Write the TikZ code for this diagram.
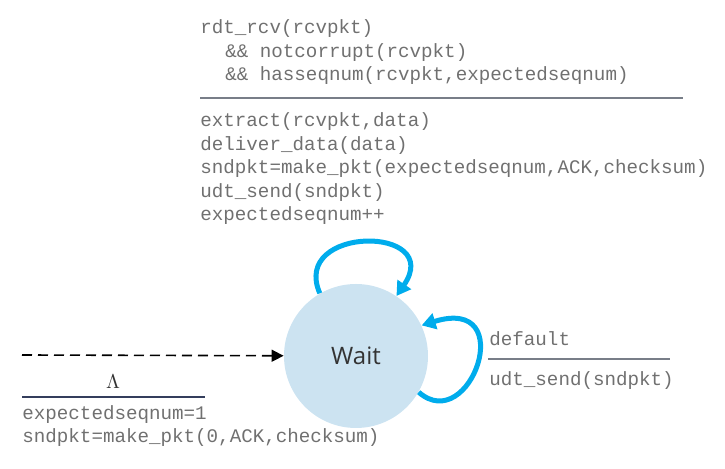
\documentclass[tikz,border=0pt]{standalone}
\usepackage{fontspec}
\newfontfamily\codefont{Liberation Mono}
\newfontfamily\statefont{Open Sans}
\usetikzlibrary{arrows.meta}
\definecolor{loopblue}{RGB}{0,172,236}
\definecolor{statefill}{RGB}{204,227,241}
\definecolor{codegray}{RGB}{112,112,112}
\definecolor{rulegray}{RGB}{120,126,136}
\definecolor{rulenavy}{RGB}{52,62,92}

\begin{document}
\begin{tikzpicture}[x=0.5pt,y=-0.5pt,
	code/.style={font=\codefont\fontsize{9.6}{11.75}\selectfont,text=codegray,align=left,inner sep=0pt,anchor=base west},
	state/.style={circle,fill=statefill,minimum size=72pt,inner sep=0pt,font=\statefont\fontsize{12}{12}\selectfont,text=black!80},
	selfloop/.style={draw=loopblue,line width=2.5pt,-{Triangle[length=7pt,width=8pt]}},
	initarrow/.style={draw=black,line width=0.8pt,dash pattern=on 5pt off 3pt,-{Triangle[length=6pt,width=6pt]}},
	guardline/.style={line width=1.1pt}]
	\useasboundingbox (0,0) rectangle (725,469);
	% state
	\node[state](w) at (356,356){Wait};
	% initial transition
	\coordinate (init) at (22,355);
	\draw[initarrow] (init) -- (w);
	\node[font=\fontsize{10}{12}\selectfont,text=black!80](lambda) at (113,382){$\Lambda$};
	\draw[guardline,rulenavy] (22,397) -- (205,397);
	\node[code](initact) at (22,443){expectedseqnum=1\\sndpkt=make\_pkt(0,ACK,checksum)};
	% self loops
	\draw[selfloop] (w.120) .. controls (290,225) and (445,225) .. (w.56);
	\draw[selfloop] (w.-30) .. controls (470,437) and (520,295) .. (w.25);
	% top loop label
	\node[code](topguard) at (200,81){rdt\_rcv(rcvpkt)\\\hspace*{1.3em}\&\& notcorrupt(rcvpkt)\\\hspace*{1.3em}\&\& hasseqnum(rcvpkt,expectedseqnum)};
	\draw[guardline,rulegray] (200,98) -- (683,98);
	\node[code](topact) at (200,221){extract(rcvpkt,data)\\deliver\_data(data)\\sndpkt=make\_pkt(expectedseqnum,ACK,checksum)\\udt\_send(sndpkt)\\expectedseqnum++};
	% right loop label
	\node[code](rightguard) at (489,346){default};
	\draw[guardline,rulegray] (488,359) -- (670,359);
	\node[code](rightact) at (489,386){udt\_send(sndpkt)};
\end{tikzpicture}
\end{document}
